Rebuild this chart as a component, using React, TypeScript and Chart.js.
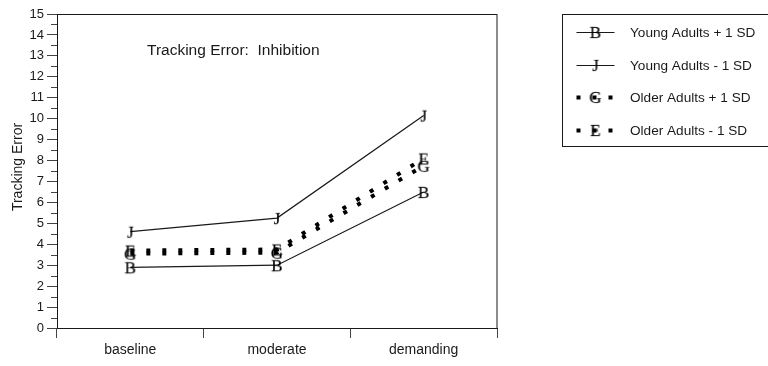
import { useEffect, useRef } from 'react';
import { Chart, registerables } from 'chart.js';

Chart.register(...registerables);

// Task levels on the x axis
const categories = ['baseline', 'moderate', 'demanding'];

// Tracking error per group (mean +/- 1 SD)
const youngPlus = [2.9, 3.0, 6.5];
const youngMinus = [4.6, 5.25, 10.15];
const olderPlus = [3.55, 3.6, 7.75];
const olderMinus = [3.7, 3.75, 8.1];

const seriesNames = [
  'Young Adults + 1 SD',
  'Young Adults - 1 SD',
  'Older Adults + 1 SD',
  'Older Adults - 1 SD',
];
const markerLetters = ['B', 'J', 'G', 'E'];

const yMin = 0;
const yMax = 15;
const yStep = 1;

const chartTitle = 'Tracking Error:  Inhibition';
const yAxisTitle = 'Tracking Error';

const SANS = '"Liberation Sans", Arial, sans-serif';
const SERIF = '"Liberation Serif", "Times New Roman", serif';
const INK = '#1a1a1a';

function letterMarker(ch: string): HTMLCanvasElement {
  const c = document.createElement('canvas');
  c.width = 22;
  c.height = 22;
  const ctx = c.getContext('2d')!;
  ctx.font = `17px ${SERIF}`;
  ctx.fillStyle = '#000';
  ctx.strokeStyle = 'rgba(0,0,0,0.5)';
  ctx.lineWidth = 0.4;
  ctx.textAlign = 'center';
  ctx.textBaseline = 'alphabetic';
  const m = ctx.measureText(ch);
  const y = 11 + (m.actualBoundingBoxAscent - m.actualBoundingBoxDescent) / 2;
  ctx.fillText(ch, 11, y);
  ctx.strokeText(ch, 11, y);
  return c;
}

// Frame, minor ticks, in-plot title, y title and boxed legend
const decorations = {
  id: 'decorations',
  afterDraw(chart: any) {
    const { ctx, chartArea } = chart;
    const { left, right, top, bottom } = chartArea;
    const yScale = chart.scales.y;
    ctx.save();

    // plot frame
    ctx.strokeStyle = INK;
    ctx.lineWidth = 1;
    ctx.strokeRect(Math.round(left) + 0.5, Math.round(top) + 0.5, Math.round(right - left) - 0.5, Math.round(bottom - top));

    // minor ticks on the y axis
    ctx.strokeStyle = '#444';
    ctx.beginPath();
    for (let v = yMin + yStep / 2; v < yMax; v += yStep) {
      const py = Math.round(yScale.getPixelForValue(v)) + 0.5;
      ctx.moveTo(left - 6, py);
      ctx.lineTo(left, py);
    }
    ctx.stroke();

    // title inside the plot
    ctx.fillStyle = INK;
    ctx.font = `15.5px ${SANS}`;
    ctx.textAlign = 'left';
    ctx.textBaseline = 'alphabetic';
    ctx.fillText(chartTitle, left + 90, top + 41);

    // y axis title
    ctx.save();
    ctx.translate(18, (top + bottom) / 2 - 4);
    ctx.rotate(-Math.PI / 2);
    ctx.font = `14px ${SANS}`;
    ctx.textAlign = 'center';
    ctx.textBaseline = 'middle';
    ctx.fillText(yAxisTitle, 0, 0);
    ctx.restore();

    // legend box
    const bx = 562.5;
    const by = 14.5;
    ctx.strokeStyle = INK;
    ctx.lineWidth = 1;
    ctx.strokeRect(bx, by, 240, 132);

    chart.data.datasets.forEach((ds: any, i: number) => {
      const ry = Math.round(by + 17.5 + i * 32.7);
      ctx.save();
      ctx.strokeStyle = ds.borderColor;
      ctx.lineWidth = ds.borderWidth;
      ctx.setLineDash(ds.borderDash || []);
      ctx.lineCap = 'butt';
      ctx.beginPath();
      ctx.moveTo(bx + 14, ry + 0.5);
      ctx.lineTo(bx + 52, ry + 0.5);
      ctx.stroke();
      ctx.restore();
      const mk = ds.pointStyle as HTMLCanvasElement;
      ctx.drawImage(mk, bx + 33 - mk.width / 2, ry - mk.height / 2);
      ctx.fillStyle = INK;
      ctx.font = `13.6px ${SANS}`;
      ctx.textAlign = 'left';
      ctx.textBaseline = 'middle';
      ctx.fillText(ds.label, bx + 67.5, ry + 1);
    });

    ctx.restore();
  },
};

export default function App() {
  const canvasRef = useRef<HTMLCanvasElement | null>(null);

  useEffect(() => {
    if (!canvasRef.current) return;
    const values = [youngPlus, youngMinus, olderPlus, olderMinus];
    const datasets = values.map((data, i) => {
      const dotted = i >= 2;
      return {
        label: seriesNames[i],
        data,
        borderColor: dotted ? '#000' : INK,
        borderWidth: dotted ? 4 : 1.2,
        borderDash: dotted ? [4, 12] : [],
        borderCapStyle: 'butt' as const,
        pointStyle: letterMarker(markerLetters[i]),
        pointRadius: 8,
        fill: false,
        tension: 0,
      };
    });

    const chart = new Chart(canvasRef.current, {
      type: 'line',
      data: { labels: categories, datasets },
      options: {
        animation: false,
        responsive: false,
        devicePixelRatio: 1,
        layout: { padding: { left: 0, top: 14, right: 271, bottom: 0 } },
        plugins: {
          legend: { display: false },
          tooltip: { enabled: false },
          title: { display: false },
        },
        scales: {
          x: {
            type: 'category',
            offset: true,
            afterFit: (s: any) => {
              s.height = 38;
            },
            grid: {
              offset: true,
              drawOnChartArea: false,
              tickLength: 10,
              color: '#444',
            },
            border: { display: true, color: INK, width: 1 },
            ticks: {
              color: INK,
              font: { family: SANS, size: 14 },
              padding: 4,
              maxRotation: 0,
            },
          },
          y: {
            min: yMin,
            max: yMax,
            afterFit: (s: any) => {
              s.width = 57;
            },
            grid: {
              drawOnChartArea: false,
              tickLength: 10,
              color: '#444',
            },
            border: { display: true, color: INK, width: 1 },
            ticks: {
              stepSize: yStep,
              color: INK,
              font: { family: SANS, size: 13 },
              padding: 3,
            },
          },
        },
      },
      plugins: [decorations],
    });

    return () => chart.destroy();
  }, []);

  return (
    <div style={{ position: 'absolute', left: 0, top: 0, width: 768, height: 366, background: '#fff' }}>
      <canvas ref={canvasRef} width={768} height={366} style={{ display: 'block' }} />
    </div>
  );
}
